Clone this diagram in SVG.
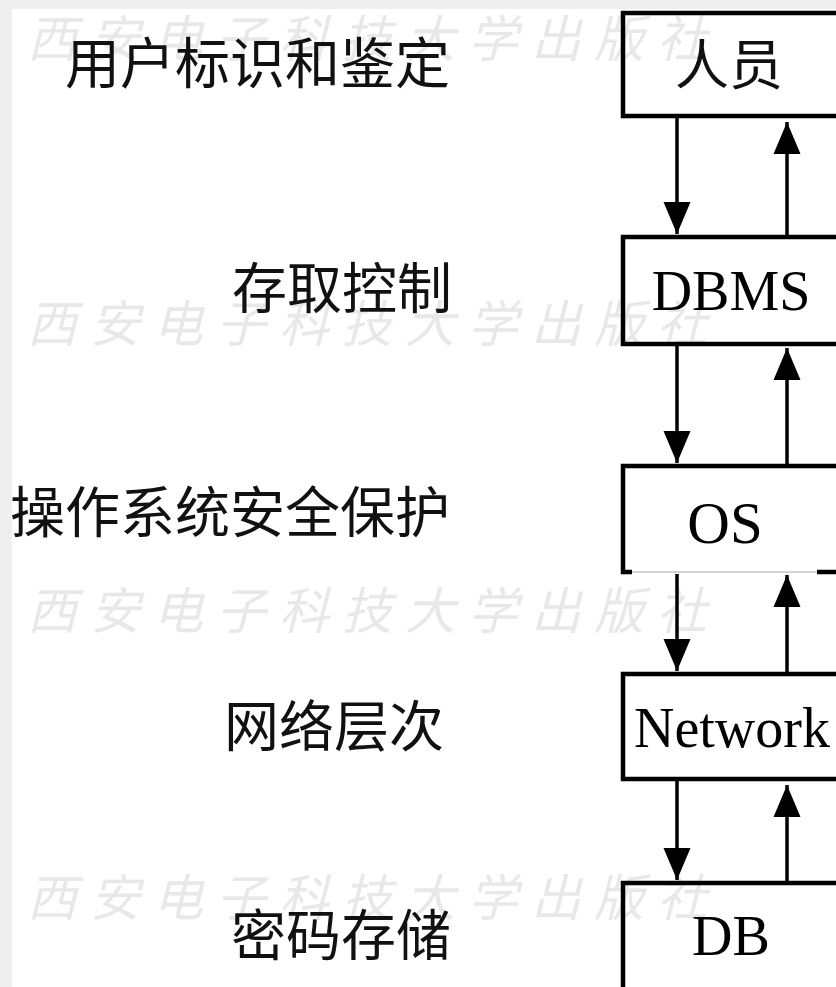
<svg xmlns="http://www.w3.org/2000/svg" width="836" height="987" viewBox="0 0 836 987">
<style>
.lbl{font-family:"Noto Sans CJK SC","Noto Sans CJK JP",sans-serif;font-size:55px;fill:#111;text-anchor:end}
.box{fill:#fff;stroke:#000;stroke-width:4.5}
.t{font-family:"Liberation Serif","Times New Roman",serif;font-size:56px;fill:#000;text-anchor:middle}
.tc{font-family:"Noto Sans CJK SC","Noto Sans CJK JP",sans-serif;font-size:54px;fill:#111;text-anchor:middle}
.ln{stroke:#000;stroke-width:3.5;fill:none}
.wm{font-family:"Noto Sans CJK SC","Noto Sans CJK JP",sans-serif;font-size:50px;font-style:italic;fill:#e8e8e8}
</style>
<defs>
<marker id="ah" markerUnits="userSpaceOnUse" markerWidth="32" markerHeight="28" refX="32" refY="14" orient="auto" viewBox="0 0 32 28">
<path d="M0,0.5 L32,14 L0,27.5 Z" fill="#000"/>
</marker>
</defs>
<rect x="0" y="0" width="836" height="987" fill="#efefef"/>
<rect x="12" y="9" width="824" height="978" fill="#fff"/>

<g id="labels">
<text class="lbl" x="450" y="83">用户标识和鉴定</text>
<text class="lbl" x="452" y="308">存取控制</text>
<text class="lbl" x="450" y="532">操作系统安全保护</text>
<text class="lbl" x="444" y="746">网络层次</text>
<text class="lbl" x="451" y="955">密码存储</text>
</g>

<g id="node-person">
<rect class="box" x="623" y="13" width="300" height="103"/>
<text class="tc" x="729" y="85">人员</text>
</g>
<g id="node-dbms">
<rect class="box" x="623" y="237" width="300" height="107"/>
<text class="t" x="731" y="310">DBMS</text>
</g>
<g id="node-os">
<rect x="623" y="466" width="300" height="106" fill="#fff"/>
<path d="M632,572 L623,572 L623,466 L923,466" fill="none" stroke="#000" stroke-width="4.5"/>
<path d="M817,572 L836,572" fill="none" stroke="#000" stroke-width="4.5"/>
<path d="M632,572 L817,572" fill="none" stroke="#aaa" stroke-width="1"/>
<text class="t" x="725" y="543" style="font-size:59px">OS</text>
</g>
<g id="node-network">
<rect class="box" x="623" y="674" width="300" height="105"/>
<text class="t" x="732" y="747">Network</text>
</g>
<g id="node-db">
<rect class="box" x="623" y="883" width="300" height="120"/>
<text class="t" x="731" y="955">DB</text>
</g>

<g id="connectors">
<line class="ln" x1="677" y1="118" x2="677" y2="234" marker-end="url(#ah)"/>
<line class="ln" x1="787" y1="235" x2="787" y2="122" marker-end="url(#ah)"/>
<line class="ln" x1="677" y1="346" x2="677" y2="463" marker-end="url(#ah)"/>
<line class="ln" x1="787" y1="464" x2="787" y2="348" marker-end="url(#ah)"/>
<line class="ln" x1="677" y1="574" x2="677" y2="671" marker-end="url(#ah)"/>
<line class="ln" x1="787" y1="672" x2="787" y2="575" marker-end="url(#ah)"/>
<line class="ln" x1="677" y1="781" x2="677" y2="880" marker-end="url(#ah)"/>
<line class="ln" x1="787" y1="881" x2="787" y2="785" marker-end="url(#ah)"/>
</g>

<g id="watermark" style="mix-blend-mode:multiply">
<text class="wm" x="27 90 153 216 279 342 405 468 531 594 657" y="57">西安电子科技大学出版社</text>
<text class="wm" x="27 90 153 216 279 342 405 468 531 594 657" y="342">西安电子科技大学出版社</text>
<text class="wm" x="27 90 153 216 279 342 405 468 531 594 657" y="629">西安电子科技大学出版社</text>
<text class="wm" x="27 90 153 216 279 342 405 468 531 594 657" y="916">西安电子科技大学出版社</text>
</g>
</svg>
